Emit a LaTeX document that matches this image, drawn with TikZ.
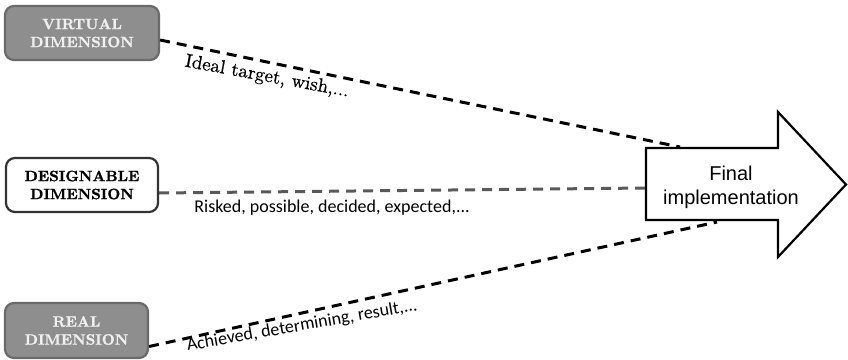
\documentclass[tikz,border=0pt]{standalone}
\usepackage{fontspec}
\newfontfamily\calib{Carlito}
\newfontfamily\helv{Liberation Sans}
\newfontfamily\boxfont{lmroman10-bold.otf}[FakeBold=1.2]
\newfontfamily\lblserif{lmroman10-regular.otf}[FakeBold=0.6]
\definecolor{boxfill}{HTML}{8E8E8E}
\definecolor{boxline}{HTML}{6A6A6A}
\begin{document}
\begin{tikzpicture}[x=1pt,y=-1pt,
  dimbox/.style={rounded corners=9pt, line width=2.2pt, minimum width=#1, minimum height=54pt,
    align=center, font=\boxfont\fontsize{15}{18}\selectfont, inner sep=0pt},
  graybox/.style={fill=boxfill, draw=boxline, text=white!94!black},
  whitebox/.style={fill=white, draw=black!80},
  link/.style={line width=3pt, dash pattern=on 10pt off 7pt},
  sanslbl/.style={font=\calib\fontsize{18}{20}\selectfont, inner sep=0pt},
  seriflbl/.style={font=\lblserif\fontsize{19}{21}\selectfont, inner sep=0pt},
  bigarrow/.style={draw=black, line width=2.2pt, fill=white, line join=miter},
  finaltext/.style={font=\helv\fontsize{20}{24}\selectfont, align=center, inner sep=0pt}]
\useasboundingbox (0,0) rectangle (848,359);

% boxes
\node[dimbox=154pt, graybox] (v) at (82,33) {VIRTUAL\\DIMENSION};
\node[dimbox=152pt, whitebox] (d) at (82,185) {DESIGNABLE\\DIMENSION};
\node[dimbox=143pt, graybox, minimum height=55pt] (r) at (76.5,330.5) {REAL\\DIMENSION};

% big arrow
\draw[bigarrow] (646,148) -- (778,148) -- (778,112) -- (846,184.5) -- (778,257) -- (778,220) -- (646,220) -- cycle;
\node[finaltext] (f) at (731,187) {Final\\implementation};

% connector end points
\coordinate (vs) at ([yshift=-7pt]v.east);
\coordinate (ds) at ([yshift=-8pt]d.east);
\coordinate (rs) at ([yshift=-16pt]r.east);
\coordinate (ve) at (680,147);
\coordinate (de) at (646,188);
\coordinate (re) at (717,222);

\draw[link] (vs) -- (ve);
\draw[link, black!65] (ds) -- (de);
\draw[link] (rs) -- (re);

% labels
\node[seriflbl, rotate=-10.5] (l1) at (267,77) {Ideal target, wish,...};
\node[sanslbl] (l2) at (332,208) {Risked, possible, decided, expected,...};
\node[sanslbl, rotate=10] (l3) at (302,326) {Achieved, determining, result,...};
\end{tikzpicture}
\end{document}
